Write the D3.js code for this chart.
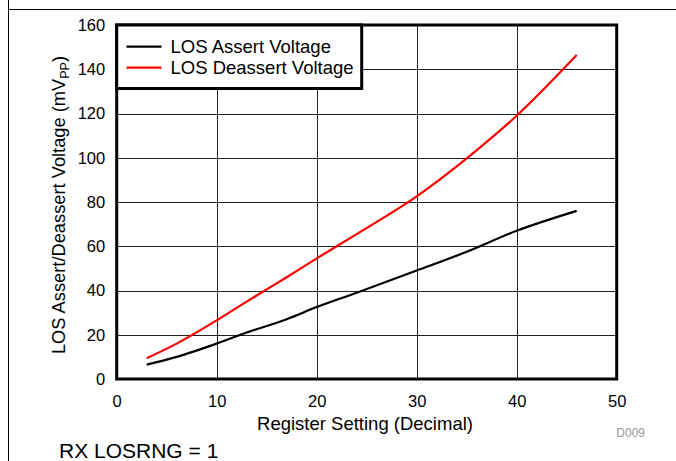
<!DOCTYPE html>
<html><head><meta charset="utf-8">
<script src="https://cdn.jsdelivr.net/npm/d3@7"></script>
<style>body{margin:0;background:#fff;}svg{display:block;font-family:"Liberation Sans",Arial,sans-serif;}</style>
</head><body>
<script>
const registerSetting = [3, 6, 10, 13, 17, 20, 24, 30, 35, 40, 46];
const assertVoltage   = [6.5, 10, 16, 21, 27, 32.5, 39, 49, 57.5, 67, 76];
const deassertVoltage = [9.4, 16, 26.5, 35, 46, 54.5, 65.5, 82.5, 99.7, 119, 146.4];
const xTicks = [0, 10, 20, 30, 40, 50];
const yTicks = [0, 20, 40, 60, 80, 100, 120, 140, 160];
const seriesNames = ["LOS Assert Voltage", "LOS Deassert Voltage"];
const seriesColors = ["#000000", "#ff0000"];

const W = 676, H = 461;
const FF = '"Liberation Sans",Arial,sans-serif';
const svg = d3.select("body").append("svg").attr("width", W).attr("height", H);

// frame lines
svg.append("line").attr("x1", 8.5).attr("x2", 8.5).attr("y1", 0).attr("y2", H).attr("stroke", "#000").attr("stroke-width", 1);
svg.append("line").attr("x1", 8).attr("x2", W).attr("y1", 9.5).attr("y2", 9.5).attr("stroke", "#000").attr("stroke-width", 1);

const x = d3.scaleLinear().domain([0, 50]).range([116.7, 616.7]);
const y = d3.scaleLinear().domain([0, 160]).range([379, 25]);

// grid
const g = svg.append("g");
g.selectAll(".gx").data(xTicks.slice(1, -1)).enter().append("line")
  .attr("x1", d => Math.round(x(d)) + 0.5).attr("x2", d => Math.round(x(d)) + 0.5)
  .attr("y1", y(160)).attr("y2", y(0)).attr("stroke", "#222").attr("stroke-width", 1);
g.selectAll(".gy").data(yTicks.slice(1, -1)).enter().append("line")
  .attr("y1", d => Math.round(y(d)) + 0.5).attr("y2", d => Math.round(y(d)) + 0.5)
  .attr("x1", x(0)).attr("x2", x(50)).attr("stroke", "#222").attr("stroke-width", 1);

// axes (labels only)
const xAxis = svg.append("g").attr("transform", `translate(0,${y(0)})`)
  .call(d3.axisBottom(x).tickValues(xTicks).tickSize(0).tickPadding(16));
const yAxis = svg.append("g").attr("transform", `translate(${x(0)},0)`)
  .call(d3.axisLeft(y).tickValues(yTicks).tickSize(0).tickPadding(11.5));
[xAxis, yAxis].forEach(a => {
  a.select(".domain").remove();
  a.selectAll("text").attr("font-size", 16.5).attr("fill", "#000").attr("font-family", FF);
});

// lines
const line = d3.line().x((d, i) => x(registerSetting[i])).y(d => y(d)).curve(d3.curveMonotoneX);
[assertVoltage, deassertVoltage].forEach((s, k) => {
  svg.append("path").datum(s).attr("d", line).attr("fill", "none")
    .attr("stroke", seriesColors[k]).attr("stroke-width", 2.2);
});

// plot border
svg.append("rect").attr("x", x(0)).attr("y", y(160)).attr("width", x(50) - x(0)).attr("height", y(0) - y(160))
  .attr("fill", "none").attr("stroke", "#000").attr("stroke-width", 3);

// legend
const lg = svg.append("g");
lg.append("rect").attr("x", x(0)).attr("y", y(160)).attr("width", 245).attr("height", 63.5)
  .attr("fill", "#fff").attr("stroke", "#000").attr("stroke-width", 3);
seriesNames.forEach((n, k) => {
  const yy = 46.7 + k * 21;
  lg.append("line").attr("x1", 126.5).attr("x2", 161.5).attr("y1", yy).attr("y2", yy)
    .attr("stroke", seriesColors[k]).attr("stroke-width", 2.2);
  lg.append("text").attr("x", 170.5).attr("y", yy + 6.5).attr("font-size", 18.5).attr("fill", "#000").text(n);
});

// axis titles
svg.append("text").attr("x", 365).attr("y", 430).attr("text-anchor", "middle").attr("font-size", 18.5).text("Register Setting (Decimal)");
const yt = svg.append("text").attr("transform", `translate(65,${(y(0) + y(160)) / 2 + 3}) rotate(-90)`)
  .attr("text-anchor", "middle").attr("font-size", 18.3);
yt.append("tspan").text("LOS Assert/Deassert Voltage (mV");
yt.append("tspan").attr("font-size", 12.5).attr("dy", 4).text("PP");
yt.append("tspan").attr("dy", -4).text(")");

svg.append("text").attr("x", 645).attr("y", 437).attr("text-anchor", "end").attr("font-size", 12).attr("fill", "#999").text("D009");
svg.append("text").attr("x", 59).attr("y", 458).attr("font-size", 21).text("RX LOSRNG = 1");
</script>
</body></html>
